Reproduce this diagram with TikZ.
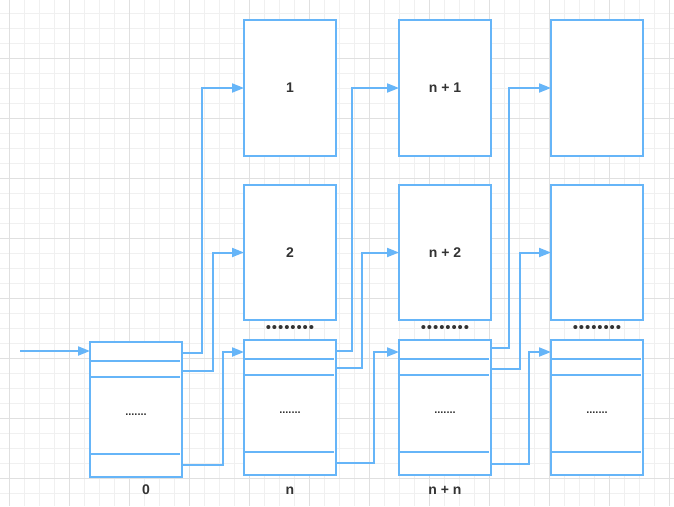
\documentclass[tikz,border=0pt]{standalone}
\usepackage{fontspec}
\setmainfont{Liberation Sans}
\usetikzlibrary{arrows.meta}
\definecolor{lb}{HTML}{66B5F8}
\definecolor{txt}{HTML}{333333}
\definecolor{gmin}{HTML}{F0F0F0}
\definecolor{gmaj}{HTML}{E0E0E0}
\newcommand{\bdot}{•\kern0.9pt}
\newcommand{\bdotrow}{\bdot\bdot\bdot\bdot\bdot\bdot\bdot•}
\begin{document}
\begin{tikzpicture}[x=1pt,y=-1pt,
  box/.style={draw=lb, line width=2pt, fill=white, minimum width=92pt, minimum height=135pt,
    inner sep=0pt, outer sep=0pt, anchor=north west, text=txt, font=\bfseries\fontsize{14}{16}\selectfont},
  tline/.style={draw=lb, line width=2pt},
  conn/.style={draw=lb, line width=2pt, -{Triangle[length=12pt,width=9pt]}},
  lab/.style={anchor=base, text=txt, inner sep=0pt, font=\bfseries\fontsize{14}{16}\selectfont},
  bigdots/.style={anchor=center, text=txt, inner sep=0pt, font=\fontsize{15}{17}\selectfont},
  smalldots/.style={anchor=base, text=txt, inner sep=0pt, font=\bfseries\fontsize{11}{13}\selectfont},
  gminor/.style={draw=gmin, line width=1pt},
  gmajor/.style={draw=gmaj, line width=1pt}]
\useasboundingbox (0,0) rectangle (674,506);
\fill[white] (0,0) rectangle (674,506);
% grid
\begin{scope}
\clip (0,0) rectangle (674,506);
\foreach \i in {0,...,44} \draw[gminor] (9.3+15*\i,0) -- (9.3+15*\i,506);
\foreach \i in {0,...,33} \draw[gminor] (0,13.3+15*\i) -- (674,13.3+15*\i);
\foreach \i in {0,...,11} \draw[gmajor] (9.3+60*\i,0) -- (9.3+60*\i,506);
\foreach \i in {0,...,7} \draw[gmajor] (0,58.3+60*\i) -- (674,58.3+60*\i);
\end{scope}
% top and middle boxes
\node[box, minimum height=136pt] (b1) at (244,20) {1};
\node[box, minimum height=136pt] (b3) at (399,20) {n + 1};
\node[box, minimum height=136pt] (b5) at (551,20) {};
\node[box] (b2) at (244,185) {2};
\node[box] (b4) at (399,185) {n + 2};
\node[box] (b6) at (551,185) {};
% tables
\node[box] (t0) at (90,342) {};
\node[box] (tn) at (244,340) {};
\node[box] (tnn) at (399,340) {};
\node[box] (tr) at (551,340) {};
\foreach \t in {t0,tn,tnn,tr}{
  \foreach \d in {18.5,34.5,112}{
    \draw[tline] ([yshift=-\d pt]\t.north west) -- ([yshift=-\d pt, xshift=-2pt]\t.north east);
  }
  \node[smalldots] at ([yshift=-73pt]\t.north) {.......};
}
% big dots above tables
\node[bigdots] (dn) at (290,329.3) {\bdotrow};
\node[bigdots] (dnn) at (445,329.3) {\bdotrow};
\node[bigdots] (dr) at (597,329.3) {\bdotrow};
% labels
\node[lab] (l0) at (146,494) {0};
\node[lab] (ln) at (290,494) {n};
\node[lab] (lnn) at (445,494) {n + n};
% coordinates
\coordinate (in) at (20,351);
\coordinate (t0a) at (182,352.5);
\coordinate (t0b) at (182,370.7);
\coordinate (t0c) at (182,465.3);
\coordinate (tnin) at (244,352);
\coordinate (tna) at (336,351);
\coordinate (tnb) at (336,367.7);
\coordinate (tnc) at (336,462.7);
\coordinate (tnnin) at (399,352);
\coordinate (tnna) at (491,348.3);
\coordinate (tnnb) at (491,369);
\coordinate (tnnc) at (491,464);
\coordinate (trin) at (551,352);
% connectors
\draw[conn] (in) -- (in -| t0.west);
\draw[conn] (t0a) -- ++(20.3,0) |- (b1.west);
\draw[conn] (t0b) -- ++(31,0) |- (b2.west);
\draw[conn] (t0c) -- ++(41.3,0) |- (tnin);
\draw[conn] (tna) -- ++(15.7,0) |- (b3.west);
\draw[conn] (tnb) -- ++(26.3,0) |- (b4.west);
\draw[conn] (tnc) -- ++(37.7,0) |- (tnnin);
\draw[conn] (tnna) -- ++(18,0) |- (b5.west);
\draw[conn] (tnnb) -- ++(29.3,0) |- (b6.west);
\draw[conn] (tnnc) -- ++(38.3,0) |- (trin);
\end{tikzpicture}
\end{document}
